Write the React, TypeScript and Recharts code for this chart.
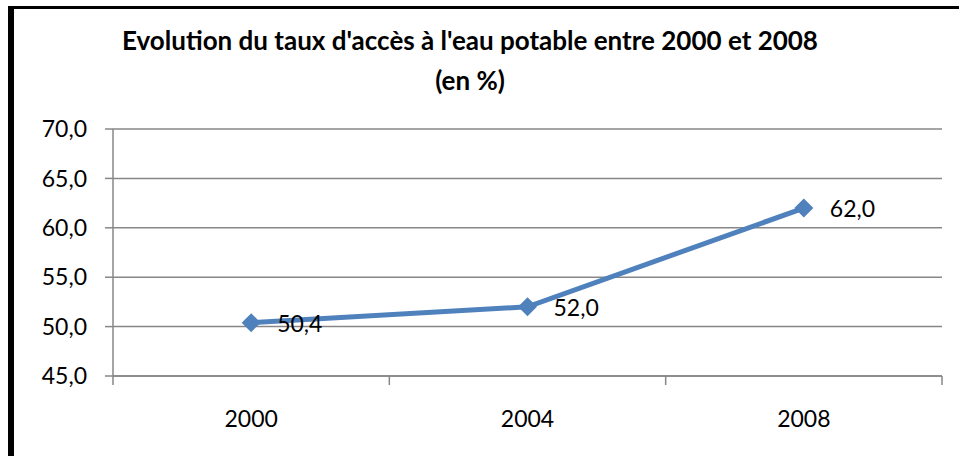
import { LineChart, Line, XAxis, YAxis, CartesianGrid } from 'recharts'

const years = ['2000', '2004', '2008']
const taux = [50.4, 52.0, 62.0]
const yTicks = [45, 50, 55, 60, 65, 70]

const data = years.map((year, i) => ({ idx: i, year, taux: taux[i] }))

const FONT = 'Lato, "Open Sans", sans-serif'
const GRID = '#878787'
const BLUE = '#4F81BD'

const fmt = (v: number) => v.toFixed(1).replace('.', ',')

const XTick = (props: any) => {
  const { x, y, payload } = props
  const v = payload.value as number
  if (Number.isInteger(v)) {
    return (
      <text x={x} y={y + 51} textAnchor="middle" fontSize={23} fontFamily={FONT} fill="#000">
        {years[v]}
      </text>
    )
  }
  return <line x1={x} x2={x} y1={y} y2={y + 9} stroke={GRID} strokeWidth={1.5} />
}

const Diamond = (props: any) => {
  const { cx, cy } = props
  if (cx == null || cy == null) return null
  const r = 9.5
  return <polygon points={`${cx},${cy - r} ${cx + r},${cy} ${cx},${cy + r} ${cx - r},${cy}`} fill={BLUE} />
}

const ValueLabel = (props: any) => {
  const { x, y, value } = props
  return (
    <text x={x + 26} y={y} dominantBaseline="central" fontSize={23} fontFamily={FONT} fill="#000">
      {fmt(value)}
    </text>
  )
}

export default function App() {
  return (
    <div style={{ position: 'absolute', left: 0, top: 0, width: 959, height: 456, background: '#fff' }}>
      <LineChart width={959} height={456} data={data} margin={{ top: 129, right: 17, bottom: 0, left: 0 }}>
        <CartesianGrid vertical={false} stroke={GRID} strokeWidth={1.5} />
        <XAxis
          dataKey="idx"
          type="number"
          domain={[-0.5, 2.5]}
          ticks={[-0.5, 0, 0.5, 1, 1.5, 2, 2.5]}
          interval={0}
          height={80}
          tickSize={0}
          tickMargin={0}
          tickLine={false}
          tick={<XTick />}
          axisLine={{ stroke: GRID, strokeWidth: 1.5 }}
        />
        <YAxis
          domain={[45, 70]}
          ticks={yTicks}
          width={113}
          tickSize={8}
          tickMargin={18}
          tickFormatter={fmt}
          tick={{ fontSize: 23, fontFamily: FONT, fill: '#000' }}
          tickLine={{ stroke: GRID, strokeWidth: 1.5 }}
          axisLine={{ stroke: GRID, strokeWidth: 1.5 }}
        />
        <Line
          dataKey="taux"
          stroke={BLUE}
          strokeWidth={5}
          dot={<Diamond />}
          activeDot={false}
          label={<ValueLabel />}
          isAnimationActive={false}
        />
      </LineChart>
      <svg width={959} height={456} style={{ position: 'absolute', left: 0, top: 0, pointerEvents: 'none' }}>
        <rect x={8} y={6} width={6} height={450} fill="#000" />
        <rect x={8} y={6} width={951} height={3} fill="#000" />
        <text x={470} y={50} textAnchor="middle" fontSize={26} fontWeight="bold" fontFamily={FONT} fill="#000">
          Evolution du taux d'accès à l'eau potable entre 2000 et 2008
        </text>
        <text x={470} y={90} textAnchor="middle" fontSize={26} fontWeight="bold" fontFamily={FONT} fill="#000">
          (en %)
        </text>
      </svg>
    </div>
  )
}
